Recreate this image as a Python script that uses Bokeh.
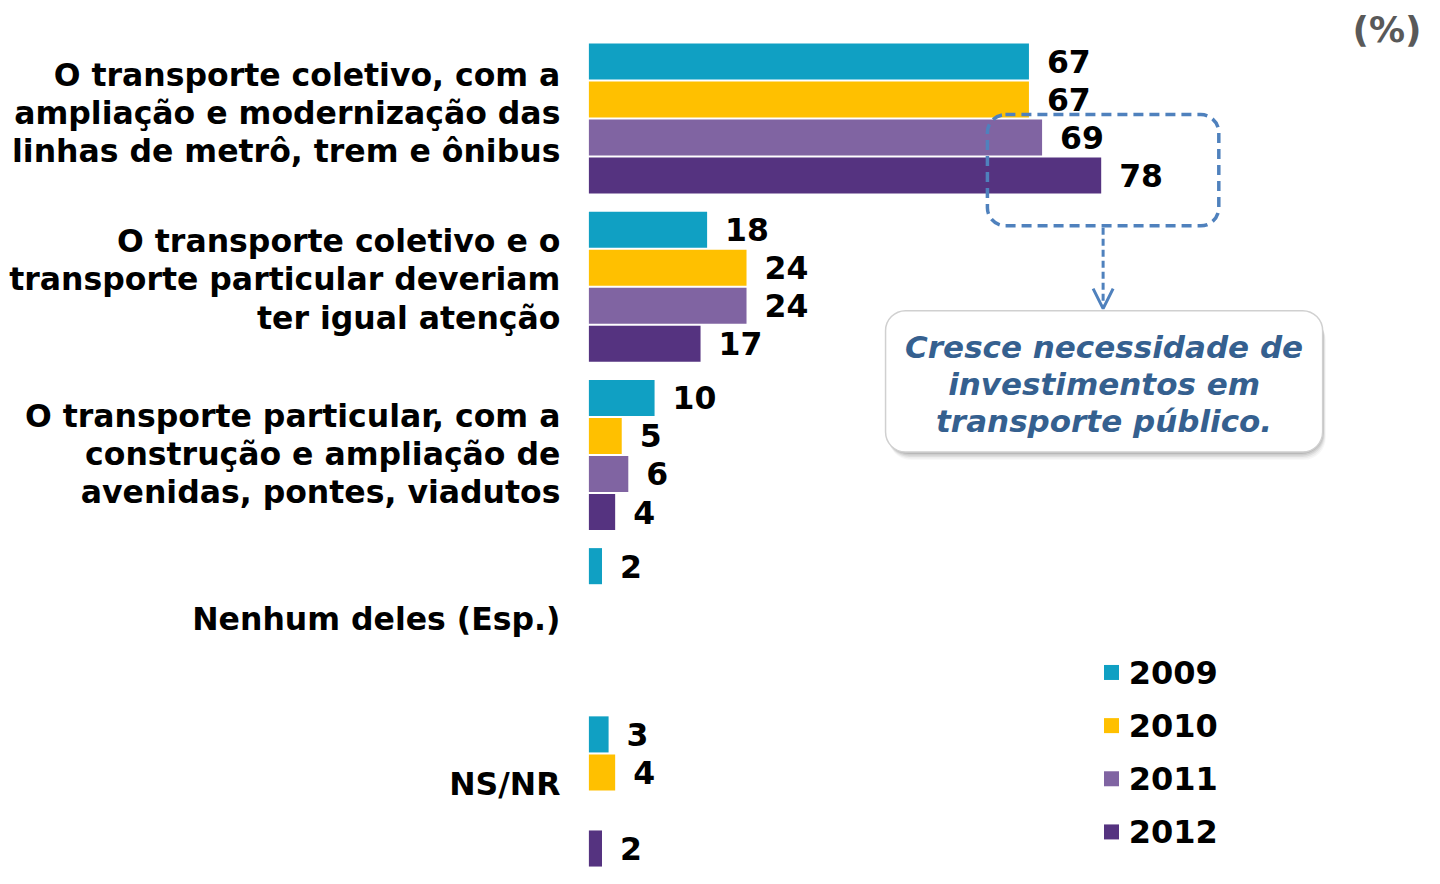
from bokeh.plotting import figure
from bokeh.models import Range1d, ColumnDataSource, BoxAnnotation, Arrow, OpenHead
from bokeh.core.properties import value
from bokeh.embed import file_html
from bokeh.resources import INLINE

# ---------------- data ----------------
categories = [
    "O transporte coletivo, com a\nampliação e modernização das\nlinhas de metrô, trem e ônibus",
    "O transporte coletivo e o\ntransporte particular deveriam\nter igual atenção",
    "O transporte particular, com a\nconstrução e ampliação de\navenidas, pontes, viadutos",
    "Nenhum deles (Esp.)",
    "NS/NR",
]
years = ["2009", "2010", "2011", "2012"]
v2009 = [67, 18, 10, 2, 3]
v2010 = [67, 24, 5, None, 4]
v2011 = [69, 24, 6, None, None]
v2012 = [78, 17, 4, None, 2]
series = [v2009, v2010, v2011, v2012]
colors = ["#10A0C3", "#FFC000", "#8064A2", "#553380"]
callout_text = "Cresce necessidade de\ninvestimentos em\ntransporte público."
unit_label = "(%)"

# ---------------- layout (reference pixel space mapped on figure) ----------------
W, H = 1424, 868
REF_W, REF_H = 1440, 890
X0_PX = 595.0            # where value 0 sits
SCALE = 445.0 / 67.0     # px per percentage point
BAR_Y0 = 62.5            # centre of first bar
GROUP_STEP = 172.5
BAR_STEP = 39.0
BAR_H = 37.0
LABEL_SHIFT = [-5.5, -7.5, -1.0, -4.5, -8.0]

def px2x(px):
    return (px - X0_PX) / SCALE

p = figure(width=W, height=H,
           x_range=Range1d(px2x(0), px2x(REF_W)),
           y_range=Range1d(REF_H, 0),
           x_axis_type=None, y_axis_type=None,
           output_backend="svg", toolbar_location=None,
           min_border=0, outline_line_color=None,
           background_fill_color="white", border_fill_color="white")
p.grid.visible = False

FONT = value("DejaVu Sans")

# bars + value labels
for j, (yr, vals, col) in enumerate(zip(years, series, colors)):
    ys, xs, txt = [], [], []
    for i, v in enumerate(vals):
        if v is None:
            continue
        ys.append(BAR_Y0 + i * GROUP_STEP + j * BAR_STEP)
        xs.append(v)
        txt.append(str(v))
    src = ColumnDataSource(dict(y=ys, right=xs, txt=txt))
    p.hbar(y="y", left=0, right="right", height=BAR_H, source=src,
           fill_color=col, line_color=None)
    p.text(x="right", y="y", text="txt", source=src, x_offset=18,
           text_align="left", text_baseline="middle", text_font=FONT,
           text_font_style="bold", text_font_size="31.5px", text_color="black")

# category labels
cy = [BAR_Y0 + i * GROUP_STEP + 1.5 * BAR_STEP + LABEL_SHIFT[i] for i in range(len(categories))]
p.text(x=[0] * len(categories), y=cy, text=categories, x_offset=-28.5,
       text_align="right", text_baseline="middle", text_font=FONT,
       text_font_style="bold", text_font_size="31.5px", text_color="black",
       text_line_height=1.06)

# legend
LEG_Y0 = 689.0
LEG_STEP = 54.5
ly = [LEG_Y0 + k * LEG_STEP for k in range(len(years))]
p.scatter(x=[px2x(1123.5)] * 4, y=ly, marker="square", size=15,
          fill_color=colors, line_color=None)
p.text(x=[px2x(1141)] * 4, y=ly, text=years, text_align="left",
       text_baseline="middle", text_font=FONT, text_font_style="bold",
       text_font_size="32px", text_color="black")

# unit label
p.text(x=[px2x(1437)], y=[30], text=[unit_label], text_align="right",
       text_baseline="middle", text_font=FONT, text_font_style="bold",
       text_font_size="36px", text_color="#595959")

# dashed highlight box
BLUE = "#4F81BD"
p.add_layout(BoxAnnotation(left=px2x(998), right=px2x(1232), top=117, bottom=231,
                           fill_alpha=0, line_color=BLUE, line_alpha=1, line_width=3.5,
                           line_dash="10 6", border_radius=18, level="overlay"))
# dashed arrow
p.add_layout(Arrow(x_start=px2x(1115), y_start=233, x_end=px2x(1115), y_end=316,
                   line_color=BLUE, line_width=3, line_dash="7 4",
                   end=OpenHead(size=20, line_color=BLUE, line_width=3)))

# callout box shadow + box (drawn under the glyphs so the text shows)
for k, a in enumerate([0.10, 0.08, 0.06, 0.04, 0.03]):
    d = 2 + k * 1.5
    p.add_layout(BoxAnnotation(left=px2x(895 + d * 0.4), right=px2x(1337 + d * 0.4),
                               top=318 + d, bottom=463 + d, fill_color="black",
                               fill_alpha=a, line_color=None, border_radius=22,
                               level="underlay"))
p.add_layout(BoxAnnotation(left=px2x(895), right=px2x(1337), top=318, bottom=463,
                           fill_color="white", fill_alpha=1, line_color="#D0D0D0",
                           line_alpha=1, line_width=1.5, border_radius=20,
                           level="underlay"))
p.text(x=[px2x(1116)], y=[393], text=[callout_text], text_align="center",
       text_baseline="middle", text_font=FONT, text_font_style="bold italic",
       text_font_size="31px", text_color="#35608F", text_line_height=1.03)

open("out.html", "w").write(file_html(p, INLINE))
